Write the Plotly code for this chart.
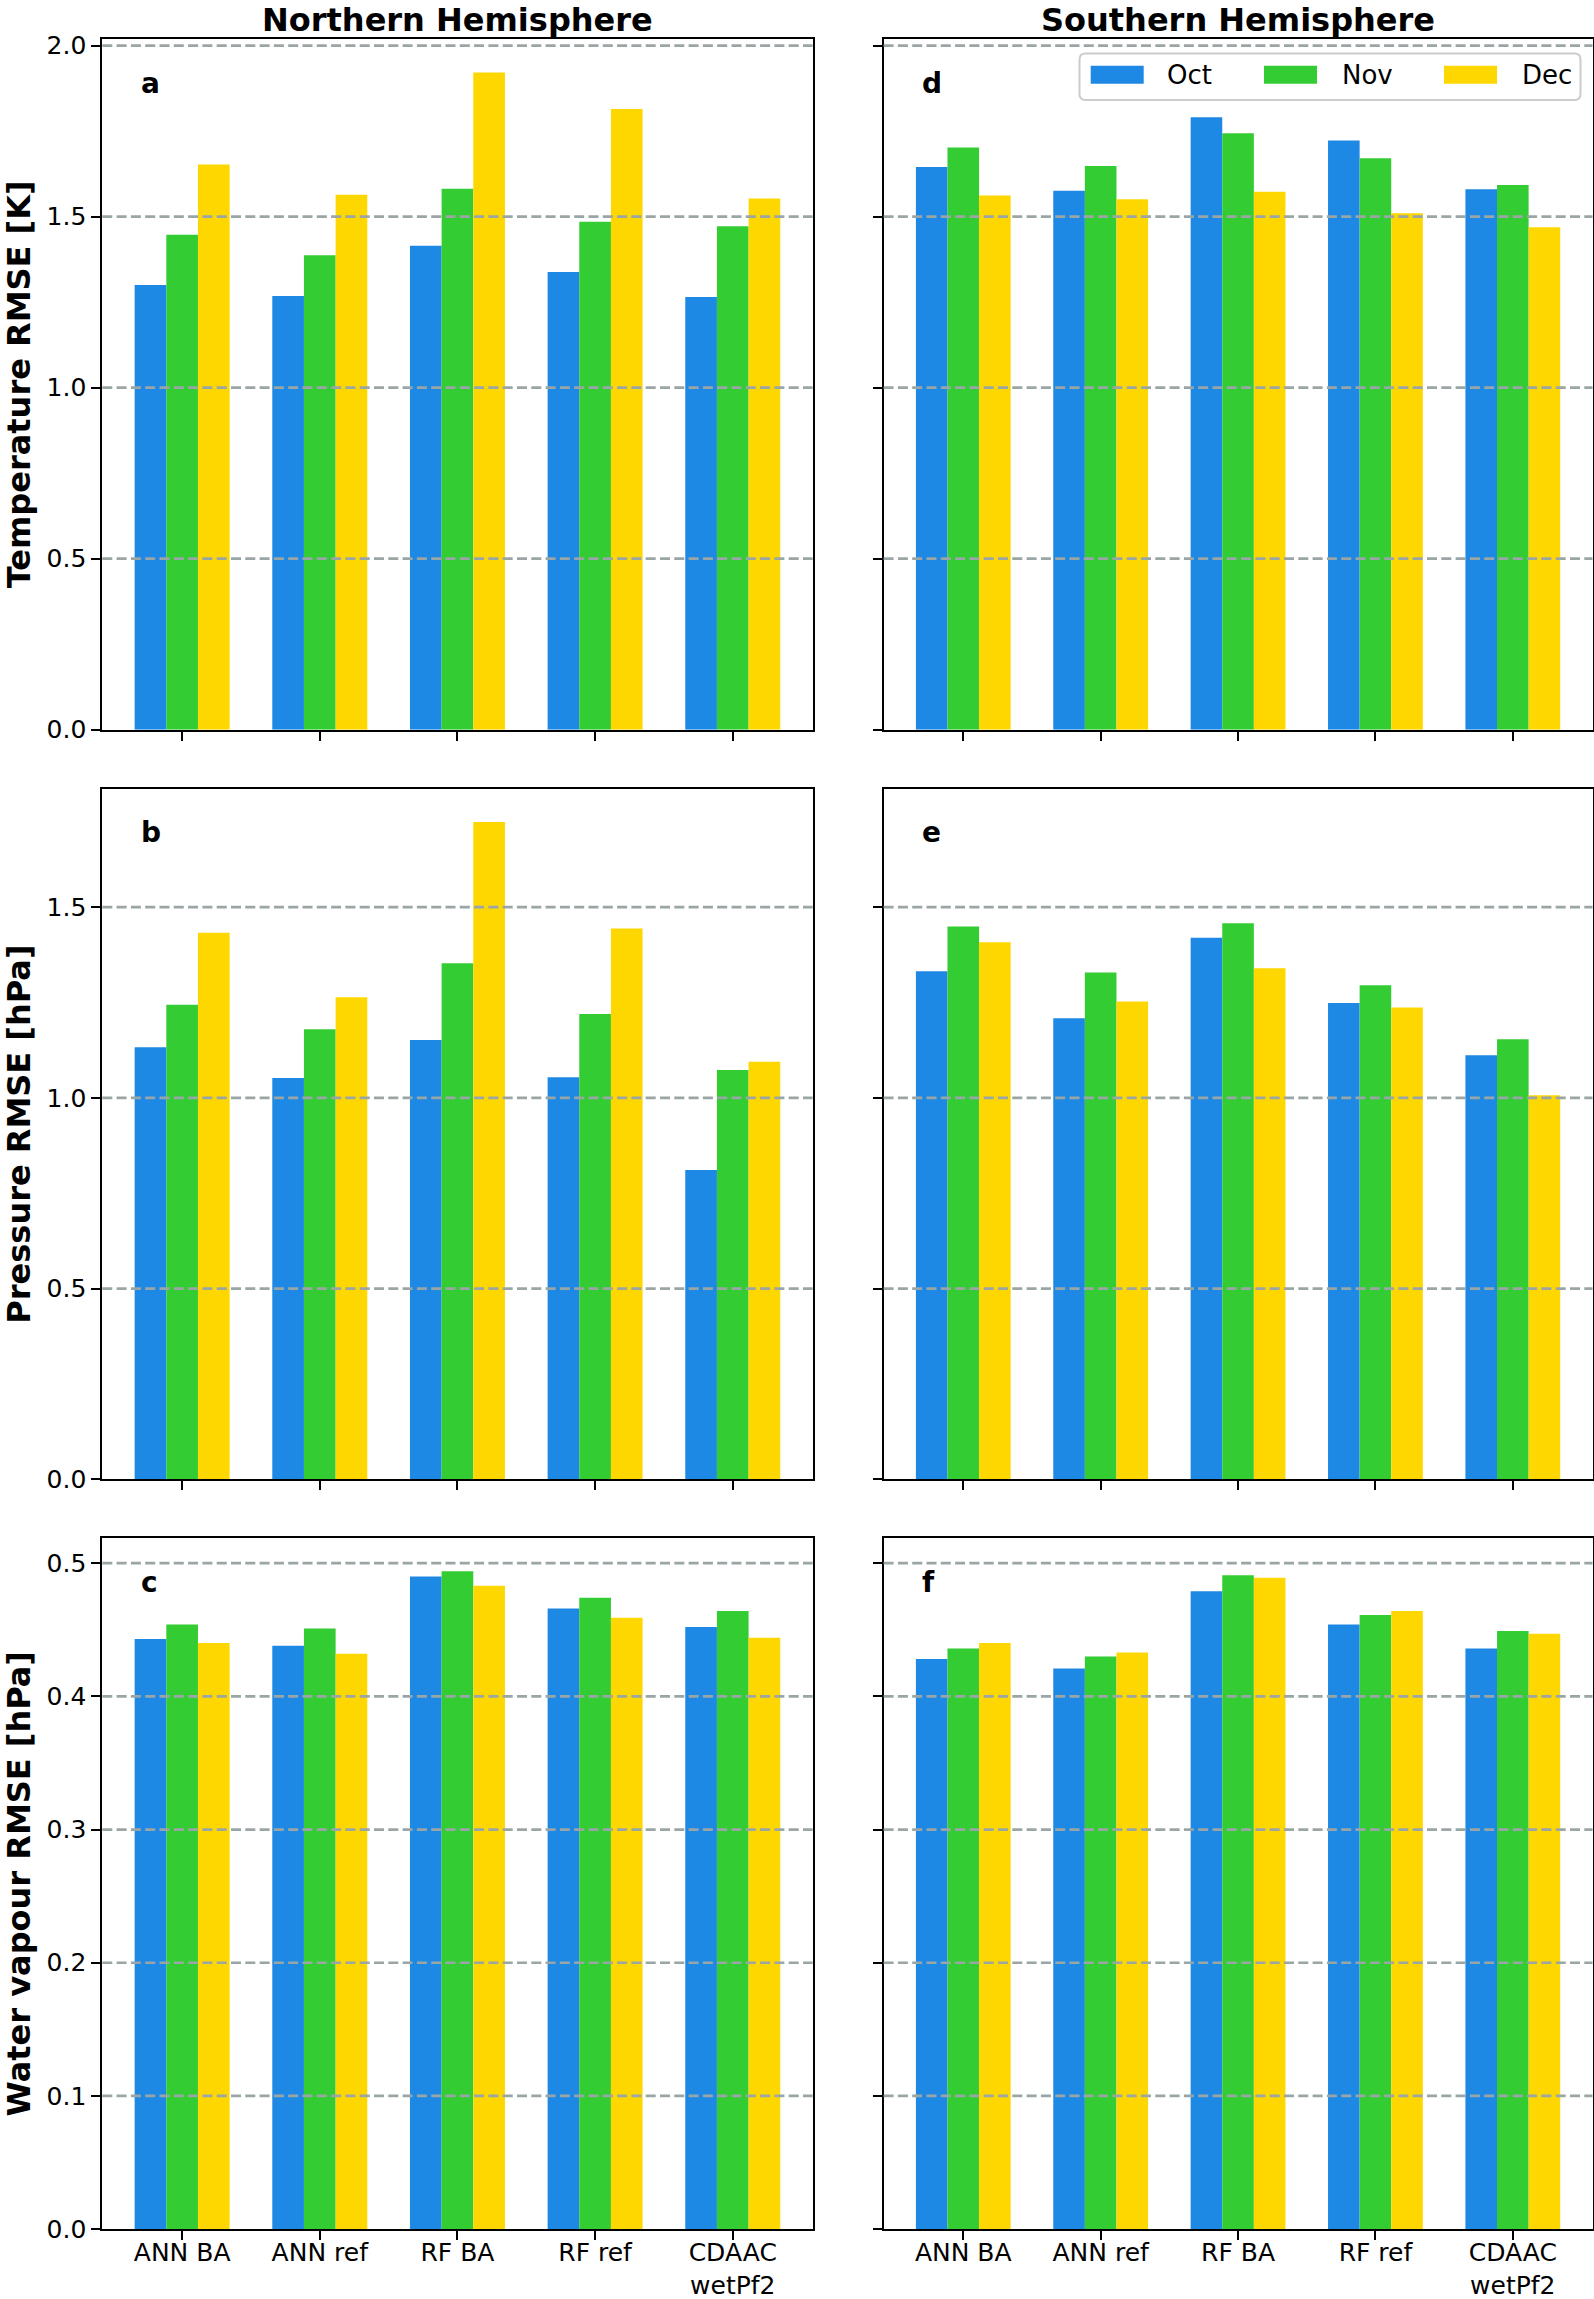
import plotly.graph_objects as go
from plotly.subplots import make_subplots

# ---------------- data ----------------
categories = ["ANN BA", "ANN ref", "RF BA", "RF ref", "CDAAC<br>wetPf2"]
months = ["Oct", "Nov", "Dec"]
month_colors = ["#1E88E5", "#33CC33", "#FFD700"]

temp_nh_oct = [1.300, 1.268, 1.415, 1.338, 1.265]
temp_nh_nov = [1.447, 1.387, 1.582, 1.485, 1.472]
temp_nh_dec = [1.653, 1.564, 1.922, 1.815, 1.553]

temp_sh_oct = [1.645, 1.576, 1.791, 1.723, 1.580]
temp_sh_nov = [1.702, 1.648, 1.744, 1.671, 1.593]
temp_sh_dec = [1.562, 1.551, 1.573, 1.510, 1.469]

pres_nh_oct = [1.133, 1.052, 1.152, 1.054, 0.811]
pres_nh_nov = [1.244, 1.180, 1.353, 1.220, 1.073]
pres_nh_dec = [1.433, 1.264, 1.723, 1.444, 1.095]

pres_sh_oct = [1.332, 1.209, 1.420, 1.249, 1.112]
pres_sh_nov = [1.449, 1.329, 1.458, 1.295, 1.154]
pres_sh_dec = [1.408, 1.253, 1.340, 1.237, 1.007]

wv_nh_oct = [0.443, 0.438, 0.490, 0.466, 0.452]
wv_nh_nov = [0.454, 0.451, 0.494, 0.474, 0.464]
wv_nh_dec = [0.440, 0.432, 0.483, 0.459, 0.444]

wv_sh_oct = [0.428, 0.421, 0.479, 0.454, 0.436]
wv_sh_nov = [0.436, 0.430, 0.491, 0.461, 0.449]
wv_sh_dec = [0.440, 0.433, 0.489, 0.464, 0.447]

column_titles = ["Northern Hemisphere", "Southern Hemisphere"]
row_titles = ["Temperature RMSE [K]", "Pressure RMSE [hPa]", "Water vapour RMSE [hPa]"]
panel_letters = [["a", "d"], ["b", "e"], ["c", "f"]]
row_ticks = [[0.0, 0.5, 1.0, 1.5, 2.0], [0.0, 0.5, 1.0, 1.5], [0.0, 0.1, 0.2, 0.3, 0.4, 0.5]]
row_ranges = [[0, 2.0196], [0, 1.8105], [0, 0.5186]]

panels = [
    [[temp_nh_oct, temp_nh_nov, temp_nh_dec], [temp_sh_oct, temp_sh_nov, temp_sh_dec]],
    [[pres_nh_oct, pres_nh_nov, pres_nh_dec], [pres_sh_oct, pres_sh_nov, pres_sh_dec]],
    [[wv_nh_oct, wv_nh_nov, wv_nh_dec], [wv_sh_oct, wv_sh_nov, wv_sh_dec]],
]

# ---------------- layout geometry ----------------
W, H = 1594, 2299
FONT = "DejaVu Sans"
col_px = [(102.3, 812.6), (883.6, 1592.5)]
row_px = [(39.0, 729.7), (788.7, 1479.4), (1538.4, 2229.1)]

fig = make_subplots(rows=3, cols=2, horizontal_spacing=0.05, vertical_spacing=0.03)

for r in range(3):
    for c in range(2):
        for m in range(3):
            fig.add_trace(
                go.Bar(
                    x=categories,
                    y=panels[r][c][m],
                    name=months[m],
                    marker=dict(color=month_colors[m], line=dict(width=0)),
                    showlegend=False,
                ),
                row=r + 1, col=c + 1,
            )

axis_common = dict(
    showline=True, linecolor="black", linewidth=2, mirror=True,
    ticks="outside", ticklen=9, tickwidth=2, tickcolor="black",
    showgrid=False, zeroline=False, automargin=False,
)

for r in range(3):
    for c in range(2):
        idx = r * 2 + c + 1
        xname = "xaxis" if idx == 1 else f"xaxis{idx}"
        yname = "yaxis" if idx == 1 else f"yaxis{idx}"
        x0, x1 = col_px[c]
        top, bot = row_px[r]
        fig.layout[xname].update(
            domain=[x0 / W, x1 / W],
            type="category",
            range=[-0.58, 4.58],
            showticklabels=(r == 2),
            tickfont=dict(family=FONT, size=25, color="black"),
            ticklabelstandoff=-9,
            **axis_common,
        )
        ydict = dict(
            domain=[1 - bot / H, 1 - top / H],
            range=row_ranges[r],
            tickvals=row_ticks[r],
            tickformat=".1f",
            showticklabels=(c == 0),
            tickfont=dict(family=FONT, size=25, color="black"),
            **axis_common,
        )
        if c == 0:
            ydict["title"] = dict(
                text="<b>" + row_titles[r] + "</b>",
                font=dict(family=FONT, size=32, color="black"),
                standoff=16,
            )
        fig.layout[yname].update(**ydict)

        xref = "x" if idx == 1 else f"x{idx}"
        yref = "y" if idx == 1 else f"y{idx}"
        # dashed grid lines drawn above the bars
        for v in row_ticks[r]:
            if v == 0:
                continue
            fig.add_shape(
                type="line", xref=f"{xref} domain", yref=yref,
                x0=0, x1=1, y0=v, y1=v, layer="above",
                line=dict(color="#9AA5A6", width=2.7, dash="10px,4.3px"),
            )
        # panel letters
        fig.add_annotation(
            text="<b>" + panel_letters[r][c] + "</b>",
            xref=f"{xref} domain", yref=f"{yref} domain",
            x=0.051, y=0.936, xanchor="left", yanchor="middle",
            showarrow=False, font=dict(family=FONT, size=28, color="black"),
        )

# column titles
for c in range(2):
    x0, x1 = col_px[c]
    fig.add_annotation(
        text="<b>" + column_titles[c] + "</b>",
        xref="paper", yref="paper",
        x=(x0 + x1) / 2 / W, y=1.0,
        xanchor="center", yanchor="top", showarrow=False,
        borderpad=0,
        font=dict(family=FONT, size=32, color="black"),
    )

# legend (drawn in panel d)
lx0, lx1, ly0, ly1 = 1079.5, 1580.5, 53.6, 99.9
rad_x, rad_y = 6 / W, 6 / H
X0, X1 = lx0 / W, lx1 / W
Y0, Y1 = 1 - ly1 / H, 1 - ly0 / H
path = (
    f"M {X0 + rad_x},{Y0} L {X1 - rad_x},{Y0} Q {X1},{Y0} {X1},{Y0 + rad_y} "
    f"L {X1},{Y1 - rad_y} Q {X1},{Y1} {X1 - rad_x},{Y1} "
    f"L {X0 + rad_x},{Y1} Q {X0},{Y1} {X0},{Y1 - rad_y} "
    f"L {X0},{Y0 + rad_y} Q {X0},{Y0} {X0 + rad_x},{Y0} Z"
)
fig.add_shape(type="path", path=path, xref="paper", yref="paper",
              fillcolor="rgba(255,255,255,0.8)", line=dict(color="#CCCCCC", width=2),
              layer="above")
patch_left = [1090.7, 1264.0, 1444.0]
text_left = [1165.0, 1340.0, 1519.6]
for m in range(3):
    fig.add_shape(
        type="rect", xref="paper", yref="paper",
        x0=patch_left[m] / W, x1=(patch_left[m] + 53) / W,
        y0=1 - 83.8 / H, y1=1 - 65.8 / H,
        fillcolor=month_colors[m], line=dict(width=0), layer="above",
    )
    fig.add_annotation(
        text=months[m], xref="paper", yref="paper",
        x=text_left[m] / W, y=1 - 75.0 / H,
        xanchor="left", yanchor="middle", showarrow=False,
        font=dict(family=FONT, size=26, color="black"),
    )

fig.update_layout(
    width=W, height=H,
    margin=dict(l=0, r=0, t=0, b=0, autoexpand=False),
    paper_bgcolor="white", plot_bgcolor="white",
    barmode="group", bargap=0.31, bargroupgap=0,
    showlegend=False,
    font=dict(family=FONT, color="black"),
)

# remove the browser's default 8px page margin so the figure fills the window exactly
fig.write_html(
    "out.html",
    config={"displayModeBar": False},
    post_script="document.body.style.margin='0';",
)
